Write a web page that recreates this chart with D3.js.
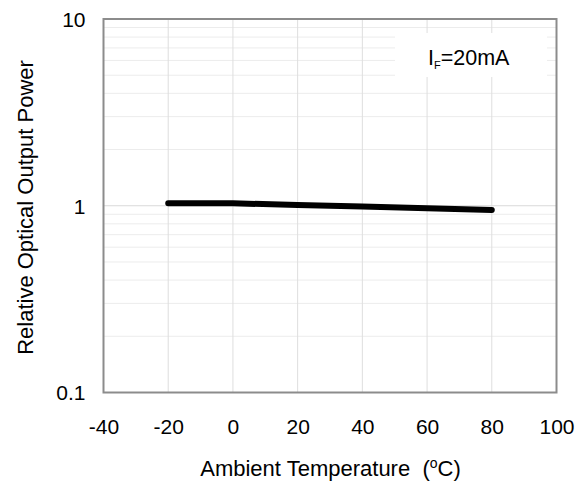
<!DOCTYPE html>
<html>
<head>
<meta charset="utf-8">
<script src="https://cdn.jsdelivr.net/npm/d3@7"></script>
<style>
  body { margin: 0; background: #fff; }
  svg { display: block; font-family: "Liberation Sans", Arial, sans-serif; }
</style>
</head>
<body>
<svg id="chart" width="587" height="486"></svg>
<script>
const temps = [-20, 0, 20, 40, 60, 80];
const power = [1.03, 1.03, 1.01, 0.99, 0.97, 0.95];
const xTicks = [-40, -20, 0, 20, 40, 60, 80, 100];
const xTickLabels = ["-40", "-20", "0", "20", "40", "60", "80", "100"];
const yTicks = [0.1, 1, 10];
const yTickLabels = ["0.1", "1", "10"];

const svg = d3.select("#chart");
const m = { left: 103.5, right: 556.5, top: 19, bottom: 392.5 };

const x = d3.scaleLinear().domain([-40, 100]).range([m.left, m.right]);
const y = d3.scaleLog().domain([0.1, 10]).range([m.bottom, m.top]);

// minor horizontal grid
const minor = [];
[0.1, 1].forEach(d => { for (let k = 2; k <= 9; k++) minor.push(d * k); });
svg.append("g").selectAll("line").data(minor).join("line")
  .attr("x1", m.left).attr("x2", m.right)
  .attr("y1", d => y(d)).attr("y2", d => y(d))
  .attr("stroke", "#ececec").attr("stroke-width", 1);

// major horizontal grid
svg.append("g").selectAll("line").data(yTicks).join("line")
  .attr("x1", m.left).attr("x2", m.right)
  .attr("y1", d => y(d)).attr("y2", d => y(d))
  .attr("stroke", "#d9d9d9").attr("stroke-width", 1);

// vertical grid
svg.append("g").selectAll("line").data(xTicks).join("line")
  .attr("x1", d => x(d)).attr("x2", d => x(d))
  .attr("y1", m.top).attr("y2", m.bottom)
  .attr("stroke", "#dedede").attr("stroke-width", 1);

// label box
svg.append("rect").attr("x", 395).attr("y", 33).attr("width", 152).attr("height", 44)
  .attr("fill", "#fff");
const lab = svg.append("text").attr("x", 428).attr("y", 65)
  .attr("font-size", 21.5).attr("fill", "#000");
lab.append("tspan").text("I");
lab.append("tspan").attr("font-size", 11).attr("dy", 4).text("F");
lab.append("tspan").attr("dy", -4).text("=20mA");

// data line
svg.append("path").datum(temps.map((t, i) => [t, power[i]]))
  .attr("fill", "none").attr("stroke", "#000").attr("stroke-width", 6)
  .attr("stroke-linecap", "round").attr("stroke-linejoin", "round")
  .attr("d", d3.line().x(d => x(d[0])).y(d => y(d[1])));

// frame
svg.append("rect").attr("x", m.left).attr("y", m.top)
  .attr("width", m.right - m.left).attr("height", m.bottom - m.top)
  .attr("fill", "none").attr("stroke", "#8c8c8c").attr("stroke-width", 2);

// x axis labels
const xAxis = d3.axisBottom(x).tickValues(xTicks).tickFormat((d, i) => xTickLabels[i]).tickSize(0).tickPadding(0);
const gx = svg.append("g").attr("transform", `translate(0,${m.bottom})`).call(xAxis);
gx.select(".domain").remove();
gx.selectAll("text").attr("font-size", 21).attr("font-family", "Liberation Sans, Arial, sans-serif")
  .attr("fill", "#000").attr("dy", null).attr("y", 41);

// y axis labels
const yAxis = d3.axisLeft(y).tickValues(yTicks).tickFormat((d, i) => yTickLabels[i]).tickSize(0).tickPadding(0);
const gy = svg.append("g").attr("transform", `translate(${m.left},0)`).call(yAxis);
gy.select(".domain").remove();
gy.selectAll("text").attr("font-size", 21).attr("font-family", "Liberation Sans, Arial, sans-serif")
  .attr("fill", "#000").attr("x", -18).attr("dy", "0.35em");

// axis titles
const xt = svg.append("text").attr("x", 330.5).attr("y", 476).attr("text-anchor", "middle")
  .attr("font-size", 22).attr("fill", "#000");
xt.append("tspan").text("Ambient Temperature\u00a0\u00a0(");
xt.append("tspan").attr("font-size", 14).attr("dy", -8).text("o");
xt.append("tspan").attr("dy", 8).text("C)");

svg.append("text").attr("transform", "translate(33,207.5) rotate(-90)")
  .attr("text-anchor", "middle").attr("font-size", 22).attr("fill", "#000")
  .text("Relative Optical Output Power");
</script>
</body>
</html>
